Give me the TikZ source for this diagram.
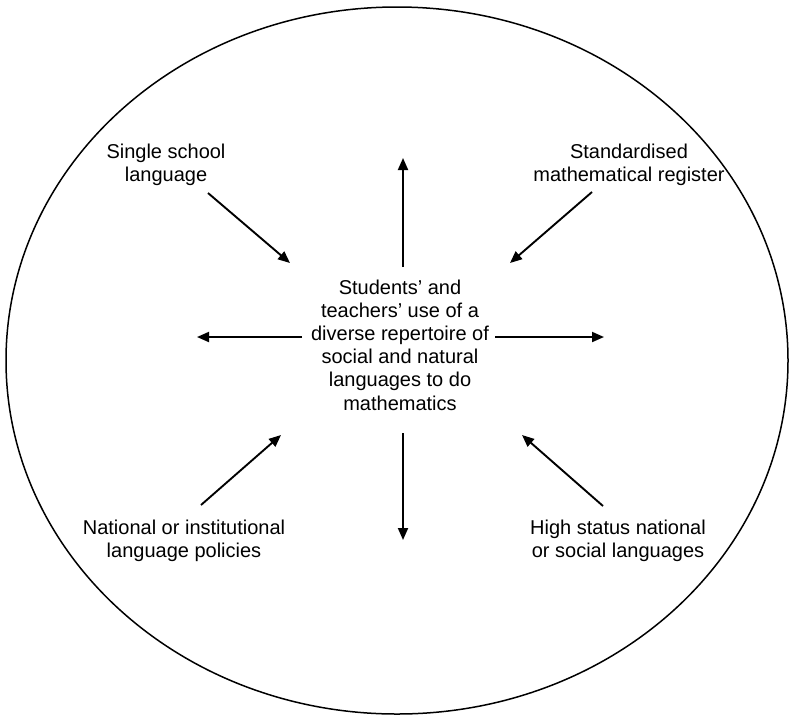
\documentclass[tikz,border=0pt]{standalone}
\usepackage{fontspec}
\setmainfont{Liberation Sans}
\usetikzlibrary{arrows.meta}

\tikzset{
  lbl/.style={align=center,inner sep=0pt,font=\fontsize{20}{23.2}\selectfont},
  arr/.style={-{Triangle[length=12pt,width=10pt]},line width=1.9pt},
}

\begin{document}
\begin{tikzpicture}[x=1pt,y=-1pt]
  \useasboundingbox (0,0) rectangle (789,716);
  \draw[line width=1.5pt] (397,360.5) ellipse [x radius=391,y radius=353.5];

  \node[lbl] (use) at (400,345) {Students’ and\\teachers’ use of a\\diverse repertoire of\\social and natural\\languages to do\\mathematics};
  \node[lbl] (school) at (166,165) {Single school\\language};
  \node[lbl] (register) at (629,165) {Standardised\\mathematical register};
  \node[lbl] (policy) at (184,541) {National or institutional\\language policies};
  \node[lbl] (status) at (618,541) {High status national\\or social languages};

  % arrow ends, tail first and tip second
  \coordinate (school-a) at (208,193);   \coordinate (school-b) at (290,263);
  \coordinate (register-a) at (592,192); \coordinate (register-b) at (510,263);
  \coordinate (policy-a) at (201,505);   \coordinate (policy-b) at (281,435);
  \coordinate (status-a) at (603,506);   \coordinate (status-b) at (522,435);
  \coordinate (up-a) at (403,267);       \coordinate (up-b) at (403,158);
  \coordinate (down-a) at (403,433);     \coordinate (down-b) at (403,540);
  \coordinate (left-a) at (302,337);     \coordinate (left-b) at (197,337);
  \coordinate (right-a) at (495,337);    \coordinate (right-b) at (604,337);

  % influences pointing in
  \draw[arr] (school-a) -- (school-b);
  \draw[arr] (register-a) -- (register-b);
  \draw[arr] (policy-a) -- (policy-b);
  \draw[arr] (status-a) -- (status-b);
  % use pointing out
  \draw[arr] (up-a) -- (up-b);
  \draw[arr] (down-a) -- (down-b);
  \draw[arr] (left-a) -- (left-b);
  \draw[arr] (right-a) -- (right-b);
\end{tikzpicture}
\end{document}
